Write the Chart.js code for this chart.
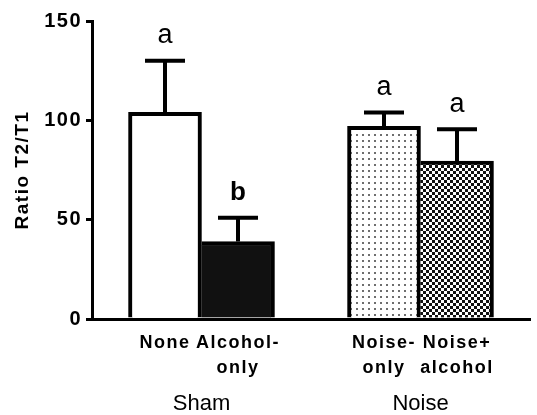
<!DOCTYPE html>
<html>
<head>
<meta charset="utf-8">
<title>Ratio T2/T1</title>
<script src="https://cdn.jsdelivr.net/npm/chart.js@4/dist/chart.umd.min.js"></script>
<style>
    html, body { margin: 0; padding: 0; background: #fff; overflow: hidden; }
    #chart { display: block; }
</style>
</head>
<body>
<canvas id="chart" width="542" height="415"></canvas>
<script>
// 카테고리 (빈 칸은 그룹 사이 간격용)
const tickLabels = ['', ['None'], ['Alcohol-', 'only'], '', ['Noise-', 'only'], ['Noise+', 'alcohol'], ''];
// 평균값 / 오차 (위쪽만)
const means = [null, 104, 39, null, 97, 79.5, null];
const errors = [null, 26, 12, null, 7, 16, null];
// 유의성 표시 문자
const letters = ['', 'a', 'b', '', 'a', 'a', ''];
// 그룹 라벨과 해당 카테고리 인덱스
const groupLabels = ['Sham', 'Noise'];
const groupIndex = [[1, 2], [4, 5]];
const yTicks = [0, 50, 100, 150];

const FONT = '"Liberation Sans", Arial, sans-serif';

// 패턴 채우기 생성
function makePattern(draw) {
    const c = document.createElement('canvas');
    c.width = 6;
    c.height = 6;
    const g = c.getContext('2d');
    draw(g);
    return document.getElementById('chart').getContext('2d').createPattern(c, 'repeat');
}

const dotPattern = makePattern(g => {
    g.fillStyle = '#fff';
    g.fillRect(0, 0, 6, 6);
    g.fillStyle = '#6e6e6e';
    g.fillRect(2, 2, 2, 2);
});

const checkPattern = makePattern(g => {
    g.fillStyle = '#fff';
    g.fillRect(0, 0, 6, 6);
    g.fillStyle = '#111';
    g.fillRect(0, 0, 3, 3);
    g.fillRect(3, 3, 3, 3);
});

const fills = ['#fff', '#fff', '#111', '#fff', dotPattern, checkPattern, '#fff'];

// 오차 막대, 문자, 그룹 라벨 그리기
const annotations = {
    id: 'annotations',
    beforeDraw(chart) {
        chart.ctx.letterSpacing = '1.5px';
    },
    afterDatasetsDraw(chart) {
        const { ctx, scales: { x, y } } = chart;
        ctx.save();
        ctx.letterSpacing = '0px';
        ctx.strokeStyle = '#000';
        ctx.lineWidth = 4;
        ctx.fillStyle = '#000';
        ctx.textAlign = 'center';
        ctx.textBaseline = 'middle';
        means.forEach((m, i) => {
            if (m === null) return;
            const px = x.getPixelForValue(i);
            const top = y.getPixelForValue(m);
            const errTop = y.getPixelForValue(m + errors[i]);
            ctx.beginPath();
            ctx.moveTo(px, top);
            ctx.lineTo(px, errTop);
            ctx.moveTo(px - 20, errTop);
            ctx.lineTo(px + 20, errTop);
            ctx.stroke();

            const isBold = letters[i] === 'b';
            ctx.font = (isBold ? 'bold 26px ' : '27px ') + FONT;
            ctx.fillText(letters[i], px, errTop - 25);
        });

        ctx.font = '22px ' + FONT;
        groupLabels.forEach((label, k) => {
            const [a, b] = groupIndex[k];
            const cx = (x.getPixelForValue(a) + x.getPixelForValue(b)) / 2;
            ctx.fillText(label, cx, chart.chartArea.bottom + 85);
        });
        ctx.restore();
    }
};

new Chart(document.getElementById('chart'), {
    type: 'bar',
    data: {
        labels: tickLabels,
        datasets: [{
            data: means,
            backgroundColor: fills,
            borderColor: '#000',
            borderWidth: ctx => ({
                top: 4,
                right: 4,
                bottom: 0,
                left: (ctx.dataIndex === 2 || ctx.dataIndex === 5) ? 0 : 4
            }),
            borderSkipped: 'start',
            barPercentage: 1,
            categoryPercentage: 1
        }]
    },
    options: {
        responsive: false,
        animation: false,
        events: [],
        layout: { padding: { top: 21, right: 0, bottom: 0, left: 0 } },
        plugins: {
            legend: { display: false },
            tooltip: { enabled: false }
        },
        scales: {
            x: {
                type: 'category',
                offset: false,
                grid: { display: false, drawTicks: false },
                border: { display: true, color: '#000', width: 3 },
                ticks: {
                    color: '#000',
                    padding: 12,
                    maxRotation: 0,
                    autoSkip: false,
                    font: { family: FONT, size: 18, weight: 'bold', lineHeight: '25px' }
                },
                afterFit: scale => { scale.height = 96; }
            },
            y: {
                min: 0,
                max: 150,
                afterBuildTicks: scale => { scale.ticks = yTicks.map(v => ({ value: v })); },
                grid: { drawOnChartArea: false, drawTicks: true, tickLength: 6, color: '#000', lineWidth: 3 },
                border: { display: true, color: '#000', width: 3 },
                ticks: {
                    color: '#000',
                    padding: 4,
                    font: { family: FONT, size: 20, weight: 'bold' }
                },
                title: {
                    display: true,
                    text: 'Ratio T2/T1',
                    color: '#000',
                    padding: { top: 11, bottom: 0 },
                    font: { family: FONT, size: 19, weight: 'bold' }
                },
                afterFit: scale => { scale.width = 92; }
            }
        }
    },
    plugins: [annotations]
});
</script>
</body>
</html>
